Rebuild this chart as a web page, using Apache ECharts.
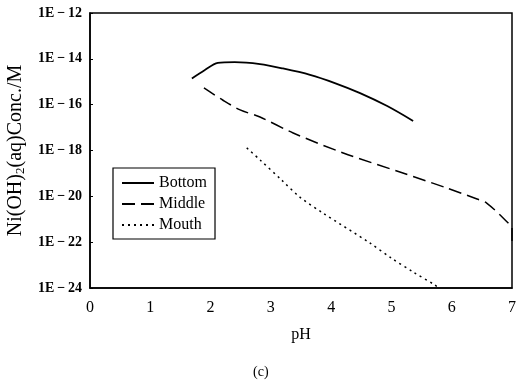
<!DOCTYPE html>
<html>
<head>
<meta charset="utf-8">
<script src="https://cdn.jsdelivr.net/npm/echarts@6/dist/echarts.min.js"></script>
<style>
  html, body { margin: 0; padding: 0; background: #fff; }
  #chart { width: 519px; height: 382px; }
</style>
</head>
<body>
<div id="chart"></div>
<script>
  // pH / concentration (M) pairs
  const bottomData = [
    [1.69, 1.4e-15], [1.9, 3.2e-15], [2.12, 6.6e-15], [2.4, 7.2e-15], [2.82, 5.9e-15],
    [3.2, 3.8e-15], [3.65, 2.0e-15], [4.05, 9.0e-16], [4.48, 3.2e-16], [4.93, 8.7e-17], [5.36, 1.95e-17]
  ];
  const middleData = [
    [1.89, 5.4e-16], [2.2, 1.6e-16], [2.49, 5.9e-17], [2.82, 2.9e-17], [3.37, 5.8e-18],
    [4.2, 7.8e-19], [5.14, 1.15e-19], [5.92, 2.3e-20], [6.42, 7.6e-21], [6.58, 5.1e-21],
    [6.92, 7.6e-22], [7.0, 4.2e-22], [7.0, 1.0e-22]
  ];
  const mouthData = [
    [2.6, 1.3e-18], [2.82, 3.9e-19], [3.18, 5.1e-20], [3.48, 9.3e-21], [3.86, 1.9e-21],
    [4.64, 9.3e-23], [5.0, 2.0e-23], [5.36, 5.0e-24], [5.72, 1.35e-24], [5.78, 1.0e-24]
  ];
  const seriesNames = ['Bottom', 'Middle', 'Mouth'];
  const xTicks = [0, 1, 2, 3, 4, 5, 6, 7];
  const yTickLabels = ['1E\u2009\u2212\u200924', '1E\u2009\u2212\u200922', '1E\u2009\u2212\u200920',
    '1E\u2009\u2212\u200918', '1E\u2009\u2212\u200916', '1E\u2009\u2212\u200914', '1E\u2009\u2212\u200912'];

  const serif = 'Liberation Serif';
  const chart = echarts.init(document.getElementById('chart'));

  // the log axis misbehaves for values this small, so plot exponents on a value axis
  const toLog = data => data.map(d => [d[0], Math.log10(d[1])]);

  const lineSeries = (name, data, type, width) => ({
    name: name,
    type: 'line',
    data: toLog(data),
    symbol: 'none',
    smooth: 0.3,
    lineStyle: { color: '#000', width: width, type: type },
    itemStyle: { color: '#000' }
  });

  chart.setOption({
    animation: false,
    backgroundColor: '#fff',
    title: {
      text: '(c)',
      left: 248,
      top: 360,
      textStyle: { fontFamily: serif, fontSize: 14, fontWeight: 'normal', color: '#000' }
    },
    grid: {
      left: 90, right: 7, top: 13, bottom: 94,
      outerBoundsMode: 'none',
      show: true, borderColor: '#000', borderWidth: 1.5
    },
    legend: {
      orient: 'vertical',
      left: 113,
      top: 168,
      data: seriesNames,
      itemWidth: 32,
      itemHeight: 10,
      itemGap: 5,
      padding: [7, 8, 6, 8],
      borderColor: '#000',
      borderWidth: 1.2,
      itemStyle: { opacity: 0 },
      textStyle: { fontFamily: serif, fontSize: 16, color: '#000' }
    },
    xAxis: {
      type: 'value',
      min: 0, max: 7, interval: 1,
      name: 'pH',
      nameLocation: 'middle',
      nameGap: 39,
      nameTextStyle: { fontFamily: serif, fontSize: 16, color: '#000' },
      axisLine: { lineStyle: { color: '#000', width: 1.5 } },
      axisTick: { show: false },
      splitLine: { show: false },
      axisLabel: {
        margin: 12,
        fontFamily: serif, fontSize: 16, color: '#000',
        formatter: v => xTicks.includes(v) ? String(v) : ''
      }
    },
    yAxis: {
      type: 'value',
      min: -24, max: -12, interval: 2,
      name: '{a|Ni(OH)}{s|2}{a|(aq)Conc./M}',
      nameLocation: 'middle',
      nameGap: 57,
      nameTextStyle: {
        rich: {
          a: { fontFamily: serif, fontSize: 20, color: '#000' },
          s: { fontFamily: serif, fontSize: 13, color: '#000', verticalAlign: 'bottom', padding: [10, 0, 0, 0] }
        }
      },
      axisLine: { lineStyle: { color: '#000', width: 1.5 } },
      axisTick: { show: true, inside: true, length: 3, lineStyle: { color: '#000' } },
      splitLine: { show: false },
      axisLabel: {
        margin: 8,
        fontFamily: serif, fontSize: 14, fontWeight: 'bold', color: '#000',
        formatter: v => yTickLabels[(v + 24) / 2] || ''
      }
    },
    series: [
      lineSeries('Bottom', bottomData, 'solid', 1.8),
      lineSeries('Middle', middleData, [13, 6], 1.5),
      lineSeries('Mouth', mouthData, [2, 4], 1.5)
    ]
  });
</script>
</body>
</html>
